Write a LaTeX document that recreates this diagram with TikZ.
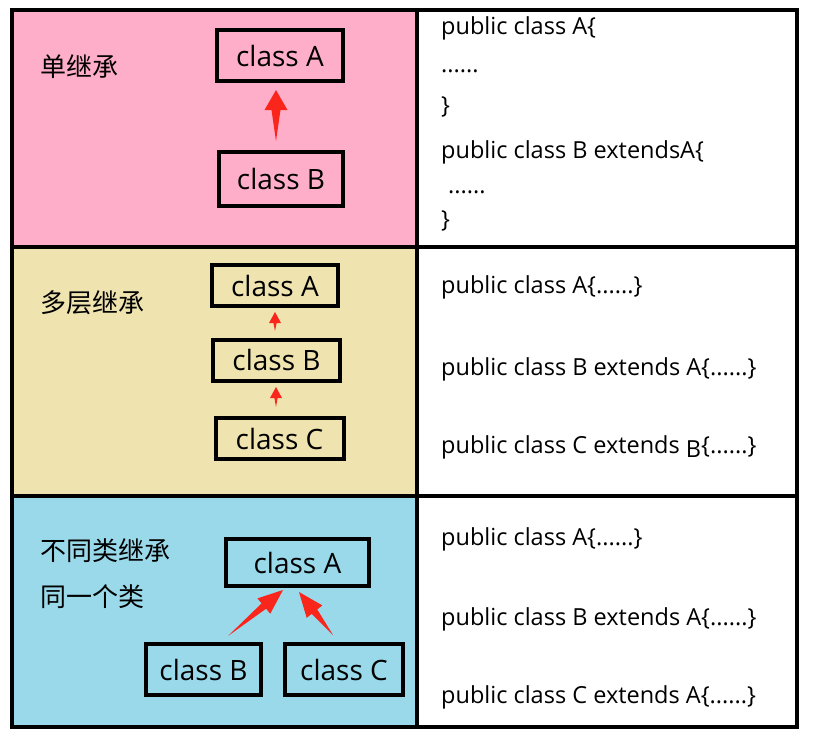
\documentclass[tikz,border=0pt]{standalone}
\usepackage{fontspec}
\setmainfont{Open Sans}
\newfontfamily\cjk{Noto Sans CJK SC}
\usepackage{xcolor}
\usetikzlibrary{positioning, math, calc}
\definecolor{mypink}{RGB}{255,174,201}
\definecolor{mycream}{RGB}{239,228,176}
\definecolor{myblue}{RGB}{153,217,234}
\definecolor{myred}{RGB}{250,38,28}

% tapered arrow: tail, tip, head length, head half width, shaft half width
\newcommand{\taperarrow}[5]{%
  \fill[myred] (#1) -- ($(#2)!#3!(#1)!#5!90:(#2)$) -- ($(#2)!#3!(#1)!#4!90:(#2)$)
    -- (#2) -- ($(#2)!#3!(#1)!#4!-90:(#2)$) -- ($(#2)!#3!(#1)!#5!-90:(#2)$) -- cycle;}

\tikzset{
  cls/.style={draw, line width=4pt, inner sep=0pt, font=\fontsize{28}{32}\selectfont},
  code/.style={anchor=base west, inner sep=0pt, font=\fontsize{23.5}{28}\selectfont},
  tag/.style={anchor=west, inner sep=0pt, font=\cjk\fontsize{26}{30}\selectfont},
}

\begin{document}
\begin{tikzpicture}[x=1pt, y=-1pt]
\tikzmath{
\xl=12; \xm=417; \xr=797;
\ya=10; \yb=247; \yc=496; \yd=727;
\xc=441;
}
\useasboundingbox (0,0) rectangle (816,739);

% panels
\fill[mypink] (\xl,\ya) rectangle (\xm,\yb);
\fill[mycream] (\xl,\yb) rectangle (\xm,\yc);
\fill[myblue] (\xl,\yc) rectangle (\xm,\yd);
\draw[line width=4pt] (\xl,\ya) rectangle (\xr,\yd);
\draw[line width=4pt] (\xm,\ya) -- (\xm,\yd);
\draw[line width=4pt] (\xl,\yb) -- (\xr,\yb) (\xl,\yc) -- (\xr,\yc);

% single inheritance
\node[tag] (t1) at (40,67) {单继承};
\node[cls, minimum width=126pt, minimum height=51pt] (A1) at (280,55.5) {class A};
\node[cls, minimum width=124pt, minimum height=54pt] (B1) at (281,179) {class B};
\coordinate (B1tail) at ([shift={(-5,-9)}]B1.north);
\coordinate (A1tip) at ([shift={(-4,7)}]A1.south);
\taperarrow{B1tail}{A1tip}{20pt}{11.5pt}{4.5pt}

\node[code] (s1) at (\xc,34) {public class A\{};
\node[code] (s2) at (\xc,72) {......};
\node[code] (s3) at (\xc,113) {\}};
\node[code] (s4) at (\xc,158) {public class B extendsA\{};
\node[code] (s5) at (\xc+7,193) {......};
\node[code] (s6) at (\xc,227) {\}};

% multilevel inheritance
\node[tag] (t2) at (40,302.5) {多层继承};
\node[cls, minimum width=126pt, minimum height=41pt] (A2) at (275,285.5) {class A};
\node[cls, minimum width=127pt, minimum height=41pt] (B2) at (276.5,360) {class B};
\node[cls, minimum width=128pt, minimum height=41pt] (C2) at (279.5,438.5) {class C};
\coordinate (B2tail) at ([shift={(-1.5,-6.5)}]B2.north);
\coordinate (A2tip) at ([shift={(0,4)}]A2.south);
\coordinate (C2tail) at ([shift={(-3.5,-9)}]C2.north);
\coordinate (B2tip) at ([shift={(-0.5,4.5)}]B2.south);
\taperarrow{B2tail}{A2tip}{11pt}{6pt}{1.6pt}
\taperarrow{C2tail}{B2tip}{11pt}{6pt}{1.6pt}

\node[code] (m1) at (\xc,293) {public class A\{......\}};
\node[code] (m2) at (\xc,375) {public class B extends A\{......\}};
\node[code] (m3) at (\xc,453) {public class C extends \raisebox{-4pt}{B}\{......\}};

% hierarchical inheritance
\node[tag] (t3) at (40,550.5) {不同类继承};
\node[tag] (t4) at (40,596.5) {同一个类};
\node[cls, minimum width=143pt, minimum height=47pt] (A3) at (297.5,562.5) {class A};
\node[cls, minimum width=115pt, minimum height=51pt] (B3) at (203.5,669.5) {class B};
\node[cls, minimum width=118pt, minimum height=51pt] (C3) at (344,669.5) {class C};
\coordinate (B3tail) at ([shift={(24.5,-6)}]B3.north);
\coordinate (A3tipl) at ([shift={(-14.5,2)}]A3.south);
\coordinate (C3tail) at ([shift={(-11,-7)}]C3.north);
\coordinate (A3tipr) at ([shift={(1.5,4)}]A3.south);
\taperarrow{B3tail}{A3tipl}{25pt}{10pt}{3.5pt}
\taperarrow{C3tail}{A3tipr}{25pt}{10pt}{3.5pt}

\node[code] (h1) at (\xc,545) {public class A\{......\}};
\node[code] (h2) at (\xc,625) {public class B extends A\{......\}};
\node[code] (h3) at (\xc,703) {public class C extends A\{......\}};

\end{tikzpicture}
\end{document}
